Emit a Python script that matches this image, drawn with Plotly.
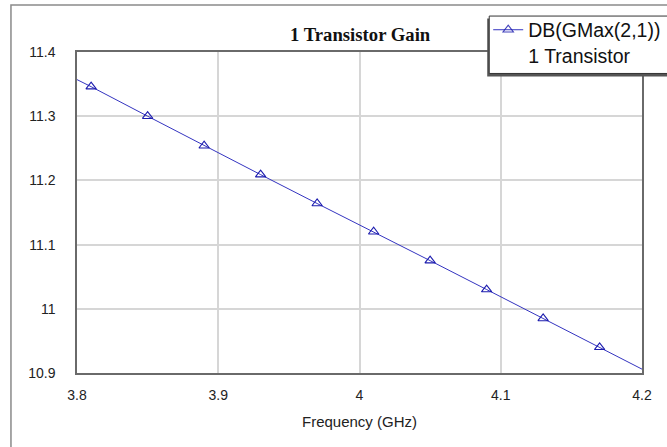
import plotly.graph_objects as go

# Data
freq_ghz = [3.80, 3.81, 3.85, 3.89, 3.93, 3.97, 4.01, 4.05, 4.09, 4.13, 4.17, 4.20]
gain_db = [11.357, 11.346, 11.300, 11.254, 11.209, 11.164, 11.120, 11.075, 11.030, 10.985, 10.940, 10.906]
marker_shown = [0, 1, 1, 1, 1, 1, 1, 1, 1, 1, 1, 0]

x_ticks = [3.8, 3.9, 4.0, 4.1, 4.2]
x_tick_text = ["3.8", "3.9", "4", "4.1", "4.2"]
y_ticks = [10.9, 11.0, 11.1, 11.2, 11.3, 11.4]
y_tick_text = ["10.9", "11", "11.1", "11.2", "11.3", "11.4"]

W, H = 667, 447
L, R, T, B = 77, 25.3, 51.5, 74
PW, PH = W - L - R, H - T - B


def px(x):
    return (x - L) / PW


def py(y):
    return (H - B - y) / PH


fig = go.Figure()
fig.add_trace(go.Scatter(
    x=freq_ghz, y=gain_db,
    mode="lines+markers",
    name="DB(GMax(2,1))<br>1 Transistor",
    line=dict(color="#3434c0", width=1),
    marker=dict(symbol="triangle-up-open", size=9, color="#1c1cae",
                opacity=marker_shown, line=dict(width=1.1, color="#1c1cae")),
))

axis_common = dict(
    showline=True, mirror=True, linecolor="#6a6a6a", linewidth=1.5,
    showgrid=True, gridcolor="#d6d6d6", gridwidth=1.5,
    zeroline=False, ticks="outside", ticklen=0,
    tickfont=dict(family="Arial, Liberation Sans", size=14, color="#222"),
)

fig.update_layout(
    width=W, height=H,
    margin=dict(l=L, r=R, t=T, b=B, autoexpand=False),
    paper_bgcolor="white", plot_bgcolor="white",
    title=dict(text="<b>1 Transistor Gain</b>", x=px(360), xref="paper", xanchor="center",
               y=1 - 34 / H, yref="container", yanchor="middle",
               font=dict(family="Liberation Serif, Times New Roman, serif", size=18.7, color="#111")),
    xaxis=dict(range=[3.8, 4.2], tickvals=x_ticks, ticktext=x_tick_text,
               ticklabelstandoff=8,
               title=dict(text="Frequency (GHz)", standoff=15,
                          font=dict(family="Arial, Liberation Sans", size=15, color="#222")),
               automargin=False, **axis_common),
    yaxis=dict(range=[10.9, 11.4], tickvals=y_ticks, ticktext=y_tick_text,
               ticklabelstandoff=17, automargin=False, **axis_common),
    showlegend=True,
    legend=dict(x=px(488), y=py(10), xanchor="left", yanchor="top",
                bgcolor="rgba(0,0,0,0)", borderwidth=0,
                valign="top", itemclick=False,
                font=dict(family="Arial, Liberation Sans", size=19.5, color="#111")),
    shapes=[
        # outer frame
        dict(type="rect", xref="paper", yref="paper",
             x0=px(11), x1=px(720), y0=py(500), y1=py(4.5),
             line=dict(color="#8a8a8a", width=1.5), fillcolor="rgba(0,0,0,0)", layer="below"),
        # legend shadow
        dict(type="rect", xref="paper", yref="paper",
             x0=px(487), x1=px(720), y0=py(76), y1=py(18),
             line=dict(width=0), fillcolor="#555", layer="above"),
        # legend box
        dict(type="rect", xref="paper", yref="paper",
             x0=px(489), x1=px(720), y0=py(73), y1=py(15.5),
             line=dict(color="#333", width=1), fillcolor="white", layer="above"),
    ],
)

fig.write_html("out.html", config={"displayModeBar": False},
               post_script="document.body.style.margin='0';")
